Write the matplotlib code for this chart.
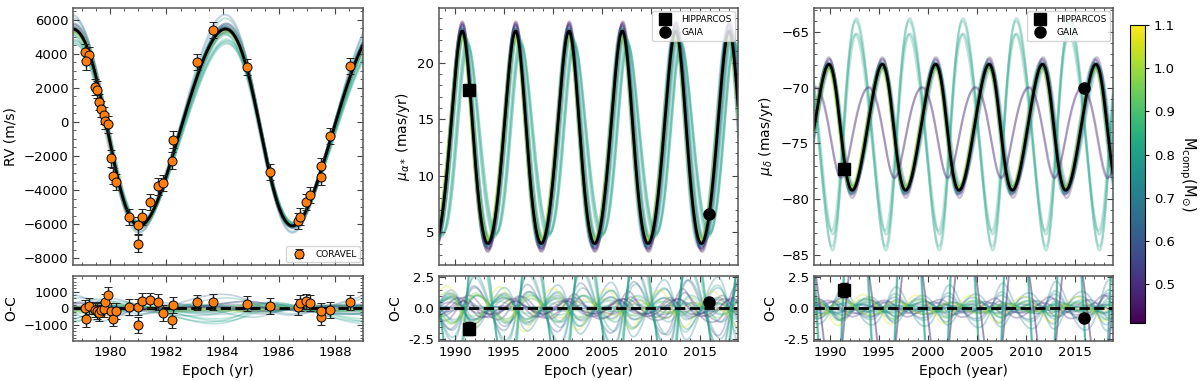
import numpy as np
import matplotlib
matplotlib.use('Agg')
import matplotlib.pyplot as plt
from matplotlib.colors import Normalize
from matplotlib.cm import ScalarMappable
from matplotlib.ticker import AutoMinorLocator, MultipleLocator

# CORAVEL radial velocities: epoch (yr), RV (m/s), error, O-C (m/s)
rv_epoch = [1979.11, 1979.23, 1979.15, 1979.47, 1979.53, 1979.61, 1979.68, 1979.76, 1979.81,
            1979.90, 1980.02, 1980.09, 1980.20, 1980.65, 1980.97, 1980.97, 1981.13, 1981.42,
            1981.68, 1981.87, 1982.19, 1982.23, 1983.08, 1983.65, 1984.88, 1985.69, 1986.70,
            1986.77, 1986.96, 1987.11, 1987.50, 1987.52, 1987.84, 1988.54]
rv_value = [4100, 3940, 3550, 2020, 1890, 1140, 750, 380, 25,
            -150, -2150, -3150, -3520, -5610, -6080, -7160, -5590, -4710,
            -3790, -3560, -2270, -1050, 3510, 5370, 3220, -2950, -5810,
            -5560, -4710, -4280, -3210, -2580, -815, 3300]
rv_err = [480, 470, 500, 470, 480, 470, 460, 480, 470,
          480, 490, 470, 480, 470, 480, 500, 490, 470,
          480, 470, 480, 490, 470, 480, 470, 480, 470,
          480, 470, 480, 490, 470, 480, 470]
rv_oc = [20, 120, -620, -80, -150, -280, -80, -20, 380,
         820, -180, -620, -180, 60, 60, -1020, 460, 480,
         360, -280, -740, 220, 360, 380, 280, 120, 80,
         320, 420, 320, -540, -140, -80, 360]

# Hipparcos and Gaia proper motions (mas/yr)
hip_epoch = 1991.4
gaia_epoch = 2015.9
pmra_hip, pmra_gaia = 17.55, 6.58
pmra_hip_oc, pmra_gaia_oc = -1.64, 0.54
pmdec_hip, pmdec_gaia = -77.25, -70.07
pmdec_hip_oc, pmdec_gaia_oc = 1.50, -0.76
hip_oc_err = 0.55
gaia_oc_err = 0.05

# best-fit orbit
period = 5.45
t_peri = 1985.5
ecc = 0.1
rv_k, rv_gamma, rv_omega = 5775, -188, 1.81
pmra_amp, pmra_off, pmra_w = 9.4, 12.50, 0.30
pmdec_amp, pmdec_off, pmdec_w = 5.65, -73.64, 1.415

# posterior draws (companion mass and orbit offsets)
draw_mass = [0.46, 0.48, 0.52, 0.55, 0.58, 0.60, 0.62, 0.64, 0.65, 0.67, 0.68, 0.70, 0.71,
             0.72, 0.74, 0.75, 0.77, 0.78, 0.80, 0.82, 0.86, 0.90, 0.94, 0.98, 1.02, 1.06,
             0.80, 0.82, 0.79, 0.83, 0.47, 0.50]
draw_dp = [0.02, -0.01, 0.03, -0.02, 0.01, 0.0, 0.02, -0.03, 0.01, -0.01, 0.02, 0.0, -0.02,
           0.03, 0.01, -0.01, 0.02, -0.02, 0.0, 0.01, -0.03, 0.02, -0.01, 0.02, -0.02, 0.01,
           0.0, 0.01, -0.01, 0.0, 0.01, -0.01]
draw_dtp = [0.03, -0.02, 0.04, 0.0, -0.04, 0.02, -0.01, 0.05, 0.0, -0.03, 0.01, -0.02, 0.03,
            -0.05, 0.02, 0.0, 0.04, -0.01, 0.02, -0.02, 0.01, 0.03, -0.03, 0.0, 0.02, -0.01,
            0.05, 0.02, 0.06, 0.03, 0.0, -0.02]
draw_k = [6000, 5850, 5700, 5950, 5800, 5750, 6400, 5650, 5900, 5800, 5700, 5850, 6000,
          5600, 5750, 6250, 5650, 5800, 5550, 5900, 5700, 5850, 5750, 5650, 5800, 5700,
          5250, 5300, 5350, 5400, 5850, 5750]
draw_gamma = [-90, -170, -240, -120, -200, -220, 40, -270, -140, -190, -240, -170, -100,
              -290, -220, -30, -260, -190, -320, -150, -240, -160, -210, -260, -190, -230,
              -540, -500, -470, -430, -170, -210]
draw_ra_amp = [10.2, 10.0, 9.6, 9.9, 9.5, 9.3, 9.8, 9.2, 9.6, 9.4, 9.1, 9.5, 9.7,
               9.0, 9.3, 9.6, 9.2, 9.4, 8.9, 9.5, 9.1, 9.3, 9.2, 9.0, 9.1, 8.9,
               8.4, 8.6, 8.3, 8.8, 10.1, 9.9]
draw_ra_dw = [0.05, -0.12, 0.12, -0.06, -0.22, 0.03, 0.10, -0.16, 0.14, -0.07, -0.26, 0.07, 0.17,
              -0.12, 0.04, 0.11, -0.19, 0.06, -0.08, 0.09, -0.14, 0.13, -0.18, 0.15, -0.12, 0.20,
              -0.75, -0.65, -0.80, -0.60, 0.05, -0.05]
draw_dec_amp = [6.3, 6.0, 5.8, 6.1, 5.6, 5.5, 5.9, 5.4, 5.7, 5.6, 5.3, 5.7, 5.9,
                5.4, 5.5, 5.8, 5.5, 5.6, 5.3, 5.7, 5.4, 5.6, 5.5, 5.4, 5.5, 5.3,
                10.4, 10.1, 9.0, 8.8, 4.0, 4.1]
draw_dec_dw = [0.06, -0.10, 0.12, -0.04, -0.17, 0.08, 0.14, -0.12, 0.03, 0.10, -0.22, -0.07, 0.17,
               0.04, -0.14, 0.07, 0.12, -0.10, -0.03, 0.14, -0.08, 0.16, -0.15, 0.18, -0.12, 0.22,
               2.74, 2.79, 2.69, 2.84, 1.5, 1.4]


def true_anomaly(t, P, tp, e):
    M = 2 * np.pi * (t - tp) / P
    E = M.copy()
    for _ in range(40):
        E = E - (E - e * np.sin(E) - M) / (1 - e * np.cos(E))
    return 2 * np.arctan2(np.sqrt(1 + e) * np.sin(E / 2), np.sqrt(1 - e) * np.cos(E / 2))


def orbit(t, P, tp, amp, off, w):
    nu = true_anomaly(t, P, tp, ecc)
    return off + amp * (np.cos(nu + w) + ecc * np.cos(w))


t_rv = np.linspace(1978.4, 1989.3, 800)
t_pm = np.linspace(1988.0, 2019.5, 2000)

best_rv = orbit(t_rv, period, t_peri, rv_k, rv_gamma, rv_omega)
best_ra = orbit(t_pm, period, t_peri, pmra_amp, pmra_off, pmra_w)
best_dec = orbit(t_pm, period, t_peri, pmdec_amp, pmdec_off, pmdec_w)

W, H = 1200, 381
fig = plt.figure(figsize=(12, 3.81), dpi=100)


def box(l, t, r, b):
    return [l / W, 1 - b / H, (r - l) / W, (b - t) / H]


ax1 = fig.add_axes(box(73, 8.5, 363, 265))
ax1r = fig.add_axes(box(73, 275.5, 363, 341))
ax2 = fig.add_axes(box(439, 8.5, 738, 265))
ax2r = fig.add_axes(box(439, 275.5, 738, 341))
ax3 = fig.add_axes(box(814, 8.5, 1113, 265))
ax3r = fig.add_axes(box(814, 275.5, 1113, 341))
cax = fig.add_axes(box(1130, 25, 1145, 323))

cmap = plt.cm.viridis
norm = Normalize(vmin=0.41, vmax=1.1)

for i in range(len(draw_mass)):
    col = cmap(norm(draw_mass[i]))
    P = period + draw_dp[i]
    tp = t_peri + draw_dtp[i]
    rv = orbit(t_rv, P, tp, draw_k[i], draw_gamma[i], rv_omega)
    ra = orbit(t_pm, P, tp, draw_ra_amp[i], pmra_off, pmra_w + draw_ra_dw[i])
    dec = orbit(t_pm, P, tp, draw_dec_amp[i], pmdec_off, pmdec_w + draw_dec_dw[i])
    ax1.plot(t_rv, rv, color=col, alpha=0.28, lw=1.5, zorder=1)
    ax1r.plot(t_rv, rv - best_rv, color=col, alpha=0.28, lw=1.2, zorder=1)
    ax2.plot(t_pm, ra, color=col, alpha=0.28, lw=1.6, zorder=1)
    ax2r.plot(t_pm, ra - best_ra, color=col, alpha=0.3, lw=1.3, zorder=1)
    ax3.plot(t_pm, dec, color=col, alpha=0.28, lw=1.6, zorder=1)
    ax3r.plot(t_pm, dec - best_dec, color=col, alpha=0.3, lw=1.3, zorder=1)

ax1.plot(t_rv, best_rv, color='black', lw=2, zorder=2)
ax2.plot(t_pm, best_ra, color='black', lw=2, zorder=2)
ax3.plot(t_pm, best_dec, color='black', lw=2, zorder=2)
for ax in (ax1r, ax2r, ax3r):
    ax.axhline(0, color='black', ls='--', lw=2, zorder=2)

eb = dict(fmt='o', mfc='#ff7f0e', mec='black', mew=0.7, ms=6.5, ecolor='#222222',
          elinewidth=1.0, capsize=3, capthick=1.0, zorder=3)
ax1.errorbar(rv_epoch, rv_value, yerr=rv_err, label='CORAVEL', **eb)
ax1r.errorbar(rv_epoch, rv_oc, yerr=rv_err, **eb)

ax2.plot([hip_epoch], [pmra_hip], 's', color='black', ms=8, zorder=3, label='HIPPARCOS')
ax2.plot([gaia_epoch], [pmra_gaia], 'o', color='black', ms=8, zorder=3, label='GAIA')
ax2r.errorbar([hip_epoch], [pmra_hip_oc], yerr=hip_oc_err, fmt='s', color='black', ms=8,
              capsize=3, zorder=3)
ax2r.errorbar([gaia_epoch], [pmra_gaia_oc], yerr=gaia_oc_err, fmt='o', color='black', ms=8,
              capsize=3, zorder=3)
ax3.plot([hip_epoch], [pmdec_hip], 's', color='black', ms=8, zorder=3, label='HIPPARCOS')
ax3.plot([gaia_epoch], [pmdec_gaia], 'o', color='black', ms=8, zorder=3, label='GAIA')
ax3r.errorbar([hip_epoch], [pmdec_hip_oc], yerr=hip_oc_err, fmt='s', color='black', ms=8,
              capsize=3, zorder=3)
ax3r.errorbar([gaia_epoch], [pmdec_gaia_oc], yerr=gaia_oc_err, fmt='o', color='black', ms=8,
              capsize=3, zorder=3)

ax1.legend(loc='lower right', fontsize=6.5, borderaxespad=0.3)
ax2.legend(loc='upper right', fontsize=6.5, borderaxespad=0.3)
ax3.legend(loc='upper right', fontsize=6.5, borderaxespad=0.3)

ax1.set_xlim(1978.67, 1989.0)
ax1r.set_xlim(1978.67, 1989.0)
ax1.set_ylim(-8400, 6650)
ax1r.set_ylim(-1980, 1980)
for ax in (ax2, ax2r, ax3, ax3r):
    ax.set_xlim(1988.37, 2018.9)
ax2.set_ylim(2.1, 24.8)
ax3.set_ylim(-85.9, -62.9)
ax2r.set_ylim(-2.65, 2.65)
ax3r.set_ylim(-2.65, 2.65)

for ax in (ax1, ax1r):
    ax.xaxis.set_major_locator(MultipleLocator(2))
ax1.yaxis.set_major_locator(MultipleLocator(2000))
ax1r.yaxis.set_major_locator(MultipleLocator(1000))
for ax in (ax2, ax2r, ax3, ax3r):
    ax.xaxis.set_major_locator(MultipleLocator(5))
ax2.yaxis.set_major_locator(MultipleLocator(5))
ax3.yaxis.set_major_locator(MultipleLocator(5))
ax2r.yaxis.set_major_locator(MultipleLocator(2.5))
ax3r.yaxis.set_major_locator(MultipleLocator(2.5))
ax2r.yaxis.set_major_formatter(plt.FormatStrFormatter('%.1f'))
ax3r.yaxis.set_major_formatter(plt.FormatStrFormatter('%.1f'))

for ax in (ax1, ax1r, ax2, ax2r, ax3, ax3r):
    ax.xaxis.set_minor_locator(AutoMinorLocator())
    ax.yaxis.set_minor_locator(AutoMinorLocator())
    ax.tick_params(which='both', direction='in', top=True, right=True, labelsize=9.5,
                   color='#444444')
    ax.tick_params(which='major', length=4)
    ax.tick_params(which='minor', length=2)
    for sp in ax.spines.values():
        sp.set_color('#555555')
        sp.set_linewidth(1.1)
for ax in (ax1, ax2, ax3):
    ax.tick_params(labelbottom=False)

ax1.set_ylabel('RV (m/s)', fontsize=10)
ax2.set_ylabel(r'$\mu_{\alpha*}$ (mas/yr)', fontsize=10)
ax3.set_ylabel(r'$\mu_{\delta}$ (mas/yr)', fontsize=10)
for ax in (ax1r, ax2r, ax3r):
    ax.set_ylabel('O-C', fontsize=10)
ax1r.set_xlabel('Epoch (yr)', fontsize=10)
ax2r.set_xlabel('Epoch (year)', fontsize=10)
ax3r.set_xlabel('Epoch (year)', fontsize=10)

cb = fig.colorbar(ScalarMappable(norm=norm, cmap=cmap), cax=cax)
cb.set_ticks([0.5, 0.6, 0.7, 0.8, 0.9, 1.0, 1.1])
cb.ax.tick_params(labelsize=9.5, length=3)
cb.set_label(r'M$_{\rm comp}$(M$_{\odot}$)', rotation=270, labelpad=16, fontsize=10.5)

fig.savefig('out.png', dpi=100)
